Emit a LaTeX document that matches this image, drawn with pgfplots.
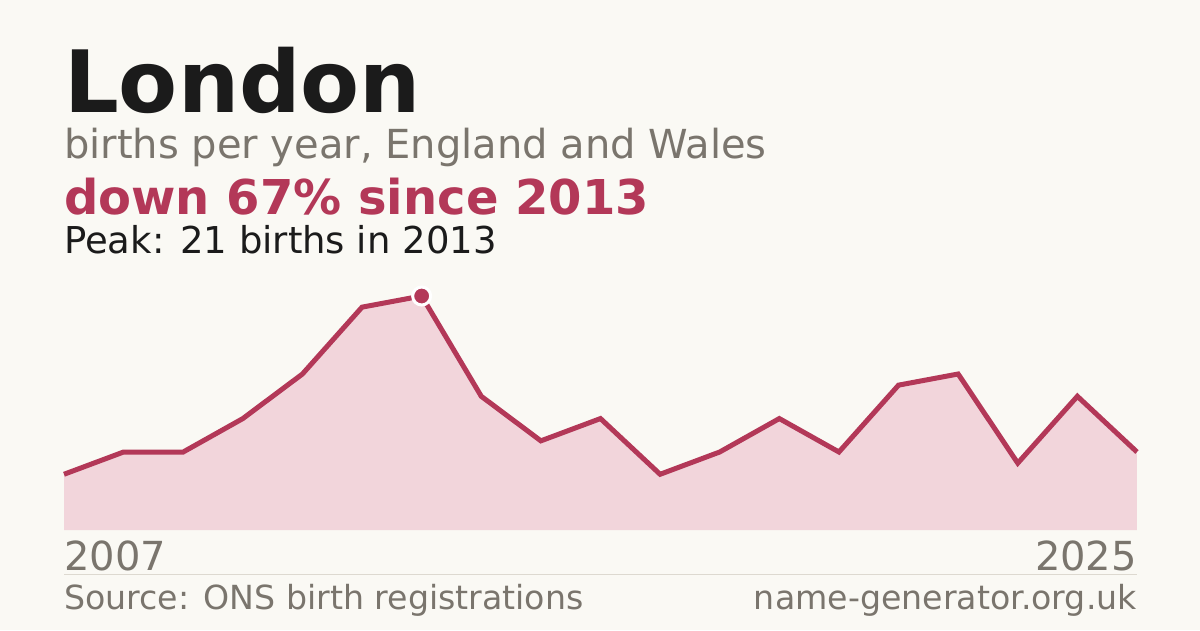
\documentclass[border=0pt]{standalone}
\usepackage{pgfplots}
\pgfplotsset{compat=1.18}
\usepackage{fontspec}
\setmainfont{DejaVu Sans}
\definecolor{bg}{HTML}{FAF9F4}
\definecolor{crim}{HTML}{B33858}
\definecolor{pinkfill}{HTML}{F2D5DB}
\definecolor{greytext}{HTML}{7A756D}
\definecolor{darktext}{HTML}{1B1B1B}
\definecolor{rule}{HTML}{DDD9D0}
\pgfplotstableread{
year births
2007 5
2008 7
2009 7
2010 10
2011 14
2012 20
2013 21
2014 12
2015 8
2016 10
2017 5
2018 7
2019 10
2020 7
2021 13
2022 14
2023 6
2024 12
2025 7
}\births
\begin{document}
\begin{tikzpicture}[x=1pt,y=1pt]
\fill[bg] (0,0) rectangle (1200,630);
\useasboundingbox (0,0) rectangle (1200,630);
\node[anchor=base west,inner sep=0,text=darktext] at (64,517) {\fontsize{86}{86}\selectfont\bfseries London};
\node[anchor=base west,inner sep=0,text=greytext] at (64,471) {\fontsize{40}{40}\selectfont births per year, England and Wales};
\node[anchor=base west,inner sep=0,text=crim] at (64,415) {\fontsize{48}{48}\selectfont\bfseries down 67\% since 2013};
\node[anchor=base west,inner sep=0,text=darktext] at (64,376) {\fontsize{37}{37}\selectfont Peak: 21 births in 2013};
\begin{axis}[
  at={(64pt,100pt)}, anchor=south west,
  scale only axis, width=1073pt, height=234pt,
  xmin=2007, xmax=2025, ymin=0, ymax=21,
  axis lines=none, clip=false,
]
\addplot[fill=pinkfill, draw=none] table[x=year,y=births] {\births} \closedcycle;
\addplot[crim, line width=5pt, line join=miter] table[x=year,y=births] {\births};
\addplot[only marks, mark=*, mark size=9pt, mark options={fill=crim, draw=white, line width=3pt}] coordinates {(2013,21)};
\end{axis}
\node[anchor=base west,inner sep=0,text=greytext] at (64,60) {\fontsize{40}{40}\selectfont 2007};
\node[anchor=base east,inner sep=0,text=greytext] at (1137,60) {\fontsize{40}{40}\selectfont 2025};
\draw[rule, line width=1pt] (64,55.5) -- (1137,55.5);
\node[anchor=base west,inner sep=0,text=greytext] at (64,21) {\fontsize{33.2}{33.2}\selectfont Source: ONS birth registrations};
\node[anchor=base east,inner sep=0,text=greytext] at (1137,21) {\fontsize{33.2}{33.2}\selectfont name-generator.org.uk};
\end{tikzpicture}
\end{document}
